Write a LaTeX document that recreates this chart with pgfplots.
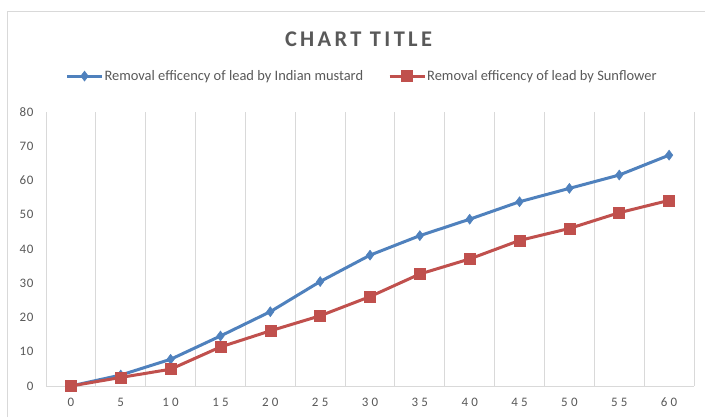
\documentclass[border=0pt]{standalone}
\usepackage{fontspec}
\setmainfont{Carlito}
\usepackage{pgfplots}
\pgfplotsset{compat=1.18}
\definecolor{mblue}{HTML}{4F81BD}
\definecolor{mred}{HTML}{C0504D}
\definecolor{tgrey}{HTML}{595959}
\definecolor{ggrey}{HTML}{D9D9D9}

\begin{document}
\begin{tikzpicture}[x=1bp,y=1bp]
\useasboundingbox (0,0) rectangle (705,417);
\fill[white] (0,0) rectangle (705,417);
\draw[ggrey, line width=1bp] (7,0) -- (7,405) -- (705,405);
\node[font=\fontsize{22.5}{26}\selectfont\bfseries\addfontfeature{LetterSpace=15}, text=tgrey] at (358.5,377.5) {CHART TITLE};
\begin{axis}[
  at={(46bp,31bp)}, anchor=south west, scale only axis,
  width=648bp, height=274bp,
  xmin=-2.5, xmax=62.5, ymin=0, ymax=80,
  xtick={0,5,...,60}, ytick={0,10,...,80},
  minor xtick={-2.5,2.5,...,62.5},
  xminorgrids, minor grid style={ggrey, line width=1bp},
  major tick length=0pt, minor tick length=0pt,
  axis x line*=bottom, axis y line*=left,
  x axis line style={ggrey, line width=1bp},
  y axis line style={draw=none},
  /pgf/number format/assume math mode=true,
  tick label style={text=tgrey},
  yticklabel style={font=\fontsize{13}{15}\selectfont\addfontfeature{LetterSpace=6}},
  xticklabel style={font=\fontsize{13}{15}\selectfont\addfontfeature{LetterSpace=25}},
  yticklabel shift=9bp,
  xticklabel shift=8.5bp,
  clip=false,
  legend style={at={(0.487,1.131)}, anchor=center, draw=none, fill=none,
    legend columns=2, font=\fontsize{14.5}{17}\selectfont, text=tgrey,
    /tikz/every even column/.append style={column sep=24bp},
    nodes={inner xsep=1bp}},
  legend image code/.code={\draw[mark repeat=2, mark phase=2, #1] plot coordinates {(0bp,0bp) (17.5bp,0bp) (35bp,0bp)};},
]
\addplot[mblue, line width=3bp, mark=diamond*, mark size=5bp, mark options={solid, line width=0.5bp}] coordinates {
(0,0) (5,3.2) (10,7.8) (15,14.6) (20,21.7) (25,30.5) (30,38.2) (35,43.9) (40,48.7) (45,53.8) (50,57.7) (55,61.6) (60,67.4)};
\addlegendentry{Removal efficency of lead by Indian mustard}
\addplot[mred, line width=3bp, mark=square*, mark size=5.5bp, mark options={solid, line width=0.5bp}] coordinates {
(0,0) (5,2.5) (10,4.9) (15,11.4) (20,16.1) (25,20.5) (30,26.1) (35,32.7) (40,37.1) (45,42.5) (50,46.0) (55,50.6) (60,54.2)};
\addlegendentry{Removal efficency of lead by Sunflower}
\end{axis}
\end{tikzpicture}
\end{document}
